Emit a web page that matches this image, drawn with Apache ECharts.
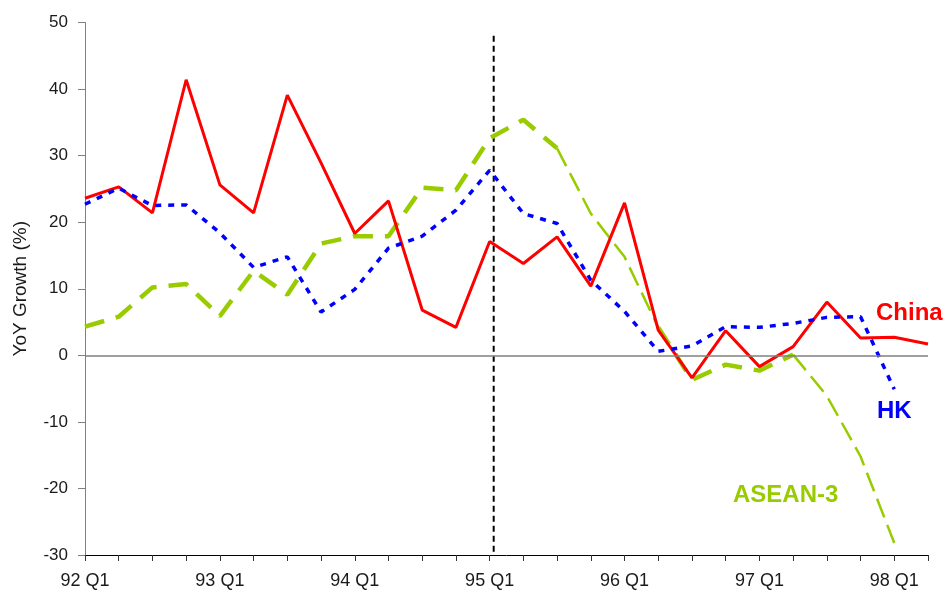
<!DOCTYPE html>
<html>
<head>
<meta charset="utf-8">
<script src="https://cdn.jsdelivr.net/npm/echarts@6/dist/echarts.min.js"></script>
<style>
html,body{margin:0;padding:0;background:#fff;}
#chart{width:949px;height:594px;}
</style>
</head>
<body>
<div id="chart"></div>
<script>
const quarters = ['92 Q1','92 Q2','92 Q3','92 Q4','93 Q1','93 Q2','93 Q3','93 Q4',
  '94 Q1','94 Q2','94 Q3','94 Q4','95 Q1','95 Q2','95 Q3','95 Q4',
  '96 Q1','96 Q2','96 Q3','96 Q4','97 Q1','97 Q2','97 Q3','97 Q4','98 Q1','98 Q2'];
const china = [23.6, 25.3, 21.4, 41.4, 25.6, 21.4, 39.1, 28.9, 18.3, 23.2, 6.8, 4.2, 17.1,
  13.8, 17.8, 10.4, 22.9, 3.8, -3.4, 3.7, -1.7, 1.3, 8.0, 2.6, 2.7, 1.7];
const hk = [22.7, 25.1, 22.5, 22.6, 18.4, 13.2, 14.8, 6.5, 9.9, 16.1, 17.9, 21.8, 27.8,
  21.3, 19.8, 11.3, 6.6, 0.6, 1.4, 4.3, 4.2, 4.8, 5.7, 5.8, -5.1, null];
const asean = [4.3, 5.8, 10.2, 10.7, 5.9, 12.7, 9.1, 16.8, 17.9, 17.9, 25.2, 24.8, 32.6,
  35.4, 31.1, 21.3, 14.8, 4.2, -3.7, -1.4, -2.3, 0.1, -6.1, -15.2, -28.2, null];
// segments of the ASEAN-3 line drawn with the heavier stroke (by quarter index)
const aseanHeavyRanges = [[0, 14], [17, 21]];
const aseanLightRanges = [[14, 17], [21, 24]];
// vertical reference line (quarter index position, from/to values)
const refLineX = 12.12;
const refLineY = [48, -30];
const yTicks = {min: -30, max: 50, step: 10};

function mask(arr, ranges) {
  return arr.map((v, i) => ranges.some(r => i >= r[0] && i <= r[1]) ? v : null);
}

const chart = echarts.init(document.getElementById('chart'), null, {renderer: 'canvas'});
const labelFont = '"Liberation Sans", Arial, sans-serif';
chart.setOption({
  animation: false,
  backgroundColor: '#ffffff',
  grid: {left: 85, right: 21, top: 22.5, bottom: 39, containLabel: false},
  xAxis: [{
    type: 'category',
    data: quarters,
    boundaryGap: false,
    axisLine: {show: true, onZero: false, lineStyle: {color: '#000', width: 1}},
    axisTick: {show: true, interval: 0, length: 6, lineStyle: {color: '#333'}},
    axisLabel: {interval: 3, margin: 17, fontFamily: labelFont, fontSize: 18, color: '#1a1a1a'},
    splitLine: {show: false}
  }, {
    type: 'value', min: 0, max: quarters.length - 1, show: false
  }],
  yAxis: {
    type: 'value',
    min: yTicks.min, max: yTicks.max, interval: yTicks.step,
    name: 'YoY Growth (%)',
    nameLocation: 'middle',
    nameGap: 55,
    nameTextStyle: {fontFamily: labelFont, fontSize: 19, color: '#1a1a1a'},
    axisLine: {show: true, onZero: false, lineStyle: {color: '#808080', width: 1}},
    axisTick: {show: true, length: 7, lineStyle: {color: '#808080'}},
    axisLabel: {margin: 17, fontFamily: labelFont, fontSize: 17, color: '#1a1a1a'},
    splitLine: {show: false}
  },
  series: [
    {
      name: 'ref', type: 'line', xAxisIndex: 1, z: 1,
      data: [[refLineX, refLineY[0]], [refLineX, refLineY[1]]],
      symbol: 'none', silent: true,
      lineStyle: {color: '#000', width: 2, type: [6, 4]},
      markLine: {
        silent: true, symbol: 'none', label: {show: false},
        lineStyle: {color: '#808080', width: 1.5, type: 'solid'},
        data: [{yAxis: 0}]
      }
    },
    {
      name: 'ASEAN-3 heavy', type: 'line', z: 2,
      data: mask(asean, aseanHeavyRanges), symbol: 'none', connectNulls: false,
      lineStyle: {color: '#99CC00', width: 4.5, type: [20, 12]}
    },
    {
      name: 'ASEAN-3 light', type: 'line', z: 2,
      data: mask(asean, aseanLightRanges), symbol: 'none', connectNulls: false,
      lineStyle: {color: '#99CC00', width: 2.5, type: [20, 8]}
    },
    {
      name: 'China', type: 'line', z: 3,
      data: china, symbol: 'none',
      lineStyle: {color: '#FF0000', width: 3, type: 'solid'}
    },
    {
      name: 'HK', type: 'line', z: 4,
      data: hk, symbol: 'none',
      lineStyle: {color: '#0000FF', width: 3.5, type: [6, 7]}
    }
  ],
  graphic: [
    {type: 'text', x: 876, y: 313, style: {text: 'China', font: 'bold 24px ' + labelFont, fill: '#FF0000', align: 'left', verticalAlign: 'middle', textAlign: 'left', textVerticalAlign: 'middle'}},
    {type: 'text', x: 877, y: 411.5, style: {text: 'HK', font: 'bold 24px ' + labelFont, fill: '#0000FF', align: 'left', verticalAlign: 'middle', textAlign: 'left', textVerticalAlign: 'middle'}},
    {type: 'text', x: 733, y: 495, style: {text: 'ASEAN-3', font: 'bold 24px ' + labelFont, fill: '#99CC00', align: 'left', verticalAlign: 'middle', textAlign: 'left', textVerticalAlign: 'middle'}}
  ]
});
</script>
</body>
</html>
